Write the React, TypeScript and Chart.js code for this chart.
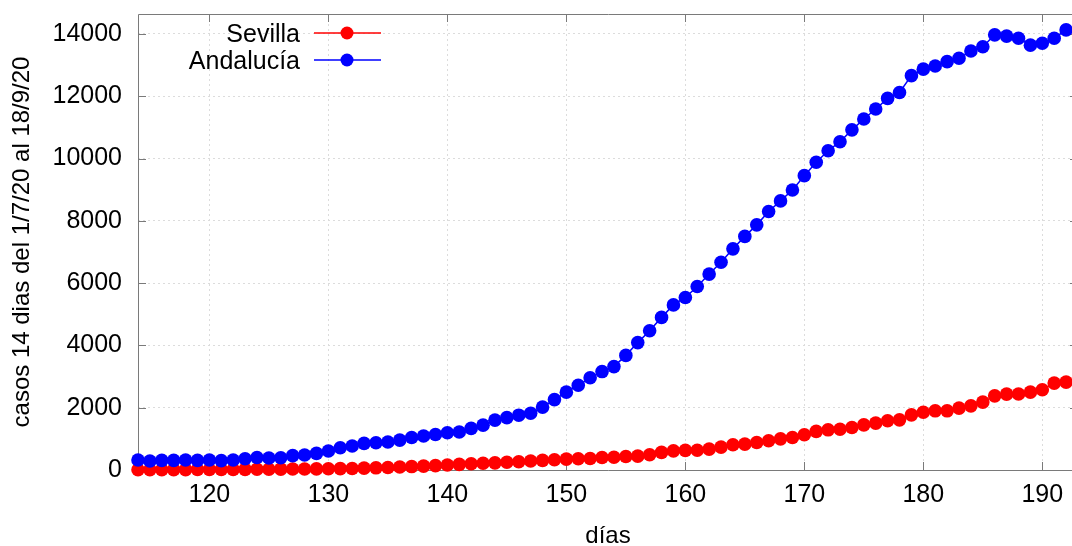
import React, { useEffect, useRef } from "react";
import { Chart, registerables } from "chart.js";

Chart.register(...registerables);

const days = [
  114, 115, 116, 117, 118, 119, 120, 121, 122, 123, 124, 125, 126, 127, 128, 129,
  130, 131, 132, 133, 134, 135, 136, 137, 138, 139, 140, 141, 142, 143, 144, 145,
  146, 147, 148, 149, 150, 151, 152, 153, 154, 155, 156, 157, 158, 159, 160, 161,
  162, 163, 164, 165, 166, 167, 168, 169, 170, 171, 172, 173, 174, 175, 176, 177,
  178, 179, 180, 181, 182, 183, 184, 185, 186, 187, 188, 189, 190, 191, 192,
];

const sevilla = [
  10, 10, 10, 12, 12, 15, 15, 15, 18, 20, 22, 25, 28, 30, 32, 35,
  40, 45, 50, 60, 70, 80, 95, 110, 125, 140, 160, 180, 200, 215, 230, 250,
  265, 290, 310, 330, 350, 360, 370, 400, 410, 435, 445, 490, 565, 615, 630, 635,
  670, 735, 810, 830, 885, 940, 1000, 1045, 1130, 1240, 1290, 1310, 1365, 1450, 1505, 1580,
  1610, 1770, 1855, 1900, 1900, 1985, 2060, 2180, 2380, 2435, 2440, 2500, 2575, 2790, 2820,
];

const andalucia = [
  320, 290, 310, 310, 320, 310, 320, 300, 320, 360, 400, 385, 395, 460, 480, 535,
  610, 715, 770, 855, 875, 900, 960, 1045, 1090, 1140, 1195, 1220, 1335, 1440, 1600, 1680,
  1760, 1820, 2020, 2260, 2500, 2720, 2960, 3160, 3320, 3680, 4090, 4470, 4900, 5300, 5540, 5890,
  6290, 6670, 7100, 7500, 7870, 8300, 8640, 8990, 9450, 9880, 10250, 10540, 10920, 11270, 11590, 11930,
  12120, 12660, 12870, 12970, 13110, 13220, 13450, 13590, 13970, 13930, 13860, 13640, 13700, 13860, 14130,
];

const seriesNames = ["Sevilla", "Andalucía"];
const seriesColors = ["#ff0000", "#0000ff"];
const xTicks = [120, 130, 140, 150, 160, 170, 180, 190];
const yTicks = [0, 2000, 4000, 6000, 8000, 10000, 12000, 14000];
const xTitle = "días";
const yTitle = "casos 14 dias del 1/7/20 al 18/9/20";

const FONT_FAMILY = '"Liberation Sans", Arial, Helvetica, sans-serif';

const framePlugin = {
  id: "frame",
  beforeDatasetsDraw(chart: any) {
    const { ctx, chartArea } = chart;
    const { left, right, top, bottom } = chartArea;
    const xs = chart.scales.x;
    const ys = chart.scales.y;
    ctx.save();
    ctx.strokeStyle = "#7a7a7a";
    ctx.lineWidth = 1;
    ctx.beginPath();
    ctx.rect(Math.round(left) + 0.5, Math.round(top) + 0.5, Math.round(right - left), Math.round(bottom - top));
    ctx.stroke();
    ctx.beginPath();
    const tl = 8;
    for (const v of yTicks) {
      const y = Math.round(ys.getPixelForValue(v)) + 0.5;
      ctx.moveTo(left, y);
      ctx.lineTo(left + tl, y);
      ctx.moveTo(right, y);
      ctx.lineTo(right - tl, y);
    }
    for (const v of xTicks) {
      const x = Math.round(xs.getPixelForValue(v)) + 0.5;
      ctx.moveTo(x, bottom);
      ctx.lineTo(x, bottom - tl);
      ctx.moveTo(x, top);
      ctx.lineTo(x, top + tl);
    }
    ctx.stroke();
    ctx.restore();
  },
};

const legendPlugin = {
  id: "gpLegend",
  afterDraw(chart: any) {
    const { ctx } = chart;
    ctx.save();
    chart.data.datasets.forEach((ds: any, i: number) => {
      const y = 33 + i * 27;
      ctx.font = `25px ${FONT_FAMILY}`;
      ctx.fillStyle = "#000";
      ctx.textAlign = "right";
      ctx.textBaseline = "alphabetic";
      ctx.fillText(ds.label, 300, y + 8.5);
      ctx.strokeStyle = ds.borderColor;
      ctx.lineWidth = 1.5;
      ctx.beginPath();
      ctx.moveTo(314, y);
      ctx.lineTo(381, y);
      ctx.stroke();
      ctx.fillStyle = ds.backgroundColor;
      ctx.beginPath();
      ctx.arc(347, y, 6.5, 0, Math.PI * 2);
      ctx.fill();
    });
    ctx.restore();
  },
};

export default function App() {
  const ref = useRef<HTMLCanvasElement | null>(null);

  useEffect(() => {
    if (!ref.current) return;
    const series = [sevilla, andalucia];
    const chart = new Chart(ref.current, {
      type: "line",
      data: {
        datasets: series.map((vals, i) => ({
          label: seriesNames[i],
          data: days.map((d, k) => ({ x: d, y: vals[k] })),
          borderColor: seriesColors[i],
          backgroundColor: seriesColors[i],
          borderWidth: 1.5,
          pointRadius: 6.8,
          pointBorderWidth: 0,
          pointHoverRadius: 6.8,
          pointBackgroundColor: seriesColors[i],
          tension: 0,
          fill: false,
          clip: false as any,
          order: series.length - i,
        })),
      },
      options: {
        responsive: false,
        animation: false,
        devicePixelRatio: 1,
        layout: { padding: { top: 14, right: 12, left: 0, bottom: 0 } },
        plugins: {
          legend: { display: false },
          tooltip: { enabled: false },
        },
        scales: {
          x: {
            type: "linear",
            min: 114,
            max: 193,
            afterBuildTicks: (s: any) => {
              s.ticks = xTicks.map((v) => ({ value: v }));
            },
            afterFit: (s: any) => {
              s.height = 76;
              s.paddingLeft = 0;
              s.paddingRight = 0;
            },
            grid: { color: "#dcdcdc", lineWidth: 1, drawTicks: false },
            border: { display: false, dash: [2, 3] },
            ticks: {
              color: "#000",
              padding: 10,
              maxRotation: 0,
              autoSkip: false,
              font: { family: FONT_FAMILY, size: 25 },
              callback: (v: any) => String(v),
            },
            title: {
              display: true,
              text: xTitle,
              color: "#000",
              padding: 0,
              font: { family: FONT_FAMILY, size: 24, lineHeight: 0.8 },
            },
          },
          y: {
            type: "linear",
            min: 0,
            max: 14640,
            afterBuildTicks: (s: any) => {
              s.ticks = yTicks.map((v) => ({ value: v }));
            },
            afterFit: (s: any) => {
              s.width = 138;
              s.paddingTop = 0;
              s.paddingBottom = 0;
            },
            grid: { color: "#dcdcdc", lineWidth: 1, drawTicks: false },
            border: { display: false, dash: [2, 3] },
            ticks: {
              color: "#000",
              padding: 16,
              autoSkip: false,
              font: { family: FONT_FAMILY, size: 25 },
              callback: (v: any) => String(v),
            },
            title: {
              display: true,
              text: yTitle,
              color: "#000",
              padding: { top: 8, bottom: 0 },
              font: { family: FONT_FAMILY, size: 24, lineHeight: 1.2 },
            },
          },
        },
      },
      plugins: [framePlugin, legendPlugin],
    });
    return () => chart.destroy();
  }, []);

  return (
    <div
      style={{
        position: "fixed",
        left: 0,
        top: 0,
        width: 1072,
        height: 546,
        overflow: "hidden",
        background: "#fff",
      }}
    >
      <canvas ref={ref} width={1090} height={546} style={{ display: "block", width: 1090, height: 546 }} />
    </div>
  );
}
